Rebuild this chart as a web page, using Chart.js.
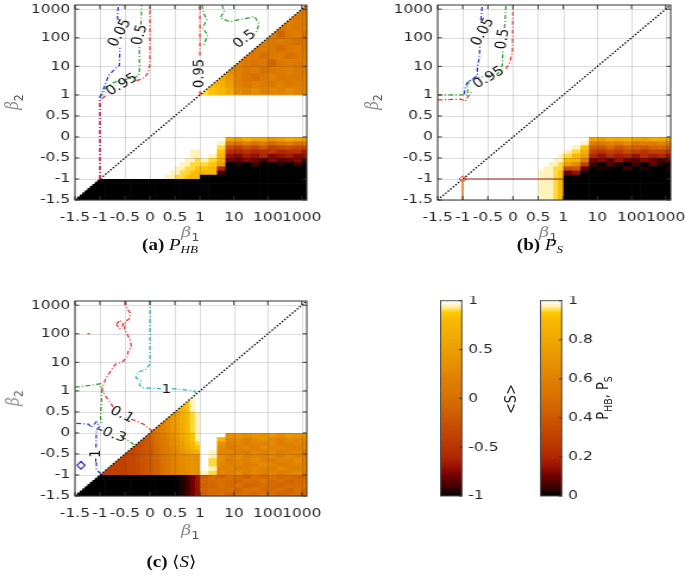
<!DOCTYPE html>
<html>
<head>
<meta charset="utf-8">
<title>beta phase diagrams</title>
<script src="https://cdn.jsdelivr.net/npm/chart.js@4.4.1/dist/chart.umd.min.js"></script>
<style>
  html, body { margin: 0; padding: 0; background: #fff; overflow: hidden; }
  /* the whole figure is laid out square and stretched sideways like the original */
  #page { position: absolute; left: 0; top: 0; width: 576px; height: 576px;
          transform: scaleX(1.1892); transform-origin: 0 0;
          font-family: "DejaVu Sans", sans-serif; color: #262626; }
  #page canvas { position: absolute; }
  .axt { position: absolute; font-family: "DejaVu Serif", serif; font-size: 15px; color: #8c8c8c;
         white-space: nowrap; transform: translate(-50%, -50%); }
  .axt sub { font-family: "DejaVu Sans", sans-serif; font-size: 11px; color: #555; vertical-align: -4px; }
  .axt.rot { transform: translate(-50%, -50%) rotate(-90deg); }
  .cap { position: absolute; font-family: "Liberation Serif", serif; font-size: 16px; color: #111;
         white-space: nowrap; transform: translate(-50%, -50%); }
  .cap sub { font-size: 11px; vertical-align: -3px; }
  .cbt { position: absolute; font-size: 13px; color: #262626; white-space: nowrap;
         transform: translate(-50%, -50%) rotate(-90deg); }
  .cbt sub { font-size: 9.5px; vertical-align: -3px; }
</style>
</head>
<body>
<div id="page">
  <canvas id="pa" width="278" height="226" style="left:0;top:0"></canvas>
  <canvas id="pb" width="279" height="226" style="left:304.5px;top:0"></canvas>
  <canvas id="pc" width="278" height="226" style="left:0;top:296px"></canvas>
  <canvas id="cb1" width="60" height="205" style="left:370px;top:296px"></canvas>
  <canvas id="cb2" width="60" height="205" style="left:454px;top:296px"></canvas>

  <div class="axt" style="left:160px;top:233px"><i>β</i><sub>1</sub></div>
  <div class="axt" style="left:461px;top:233px"><i>β</i><sub>1</sub></div>
  <div class="axt" style="left:160px;top:531px"><i>β</i><sub>1</sub></div>
  <div class="axt rot" style="left:12px;top:102px"><i>β</i><sub>2</sub></div>
  <div class="axt rot" style="left:314px;top:102px"><i>β</i><sub>2</sub></div>
  <div class="axt rot" style="left:12px;top:398px"><i>β</i><sub>2</sub></div>

  <div class="cap" style="left:143px;top:245px"><b>(a)</b> <i>P<sub>HB</sub></i></div>
  <div class="cap" style="left:454px;top:245px"><b>(b)</b> <i>P<sub>S</sub></i></div>
  <div class="cap" style="left:144px;top:561px"><b>(c)</b> ⟨<i>S</i>⟩</div>

  <div class="cbt" style="left:429px;top:399px">&lt;S&gt;</div>
  <div class="cbt" style="left:508px;top:398px">P<sub>HB</sub>, P<sub>S</sub></div>
</div>

<script>
// axis: linear from -1.5 to 1, log above 1
const K = 0.68;
const AXIS_MIN = -1.5, AXIS_MAX = 1400;
const TICK_VALUES = [-1.5, -1, -0.5, 0, 0.5, 1, 10, 100, 1000];
const TICK_LABELS = ['-1.5', '-1', '-0.5', '0', '0.5', '1', '10', '100', '1000'];

// grid cell edges (same for beta1 and beta2)
const EDGES = [-1.5, -1.4, -1.3, -1.2, -1.1, -1, -0.9, -0.8, -0.7, -0.6, -0.5, -0.4, -0.3, -0.2, -0.1,
  0, 0.1, 0.2, 0.3, 0.4, 0.5, 0.6, 0.7, 0.8, 0.9, 1,
  1.778, 3.162, 5.623, 10, 17.78, 31.62, 56.23, 100, 177.8, 316.2, 562.3, 1000, 1778];

// one char per cell, 41 levels; row strings start at the diagonal column, top row first
const LEVELS = '0123456789abcdefghijklmnopqrstuvwxyzABCDE';

const P_HB = [
  'o', 'nm', 'omn', 'mnmo', 'nimnm', 'omnmkm', 'mnmjmnm', 'nmkmnkmn', 'omlmimnmo', 'qomnkmnomn',
  'wsomkmomnmo', 'Ayuomonmomno', 'CBAwqoqopoqop',
  'EEEEEEEEEEEEEE', 'EEEEEEEEEEEEEEE', 'EEEEEEEEEEEEEEEE', 'EEEEEEEEEEEEEEEEE', 'EEEEEEEEEEEEEEEEEE',
  'EEEEEEEEEEEEEEEEEEE', 'EEEEEEEEEEEEEEEEEEEE', 'EEEEEEEEEEEEEEEEEEEEE', 'EEEEEEEEEEEEEEEEEEEEEE',
  'EEEEEEEEEEEEEEEEEEEEEEE',
  'EEEEEEEEEEEEEEwuyvwsuxvw',
  'EEEEEEEEEEEEEEDmkolnjmokn',
  'EEEEEEEEEEEEEEECecfdgcefde',
  'EEEEEEEEEEEEDDEEB98a89b89a7',
  'EEEEEEEEEEEEEDDEDA6576856756',
  'EEEEEEEEEEEEEDDCDCy4354253452',
  'EEEEEEEEEEEEEDDCCCBu0102001020',
  'EEEEEEEEEEEEEDDCCBBA80000000000',
  'EEEEEEEEEEEEEDDCCBAAA20000000000',
  'EEEEEEEEEEEEEDDCCBAA0000000000000',
  '0000000000000000000000000000000000',
  '00000000000000000000000000000000000',
  '000000000000000000000000000000000000',
  '0000000000000000000000000000000000000',
  '00000000000000000000000000000000000000'
];

const P_S = [
  'E', 'EE', 'EEE', 'EEEE', 'EEEEE', 'EEEEEE', 'EEEEEEE', 'EEEEEEEE', 'EEEEEEEEE', 'EEEEEEEEEE',
  'EEEEEEEEEEE', 'EEEEEEEEEEEE', 'EEEEEEEEEEEEE',
  'EEEEEEEEEEEEEE', 'EEEEEEEEEEEEEEE', 'EEEEEEEEEEEEEEEE', 'EEEEEEEEEEEEEEEEE', 'EEEEEEEEEEEEEEEEEE',
  'EEEEEEEEEEEEEEEEEEE', 'EEEEEEEEEEEEEEEEEEEE', 'EEEEEEEEEEEEEEEEEEEEE', 'EEEEEEEEEEEEEEEEEEEEEE',
  'EEEEEEEEEEEEEEEEEEEEEEE',
  'EEEEEEEEEEEEEEwuxwyvuxwv',
  'EEEEEEEEEEEEEEDompnqmonpm',
  'EEEEEEEEEEEEEEDBhgjfihgijg',
  'EEEEEEEEEEEEEEDCycadbecadcb',
  'EEEEEEEEEEEEEEDCAu8697869786',
  'EEEEEEEEEEEEEEDDAyo4536435424',
  'EEEEEEEEEEEEEEDDCuqc2031020310',
  'EEEEEEEEEEEEEEDDCCeg40100201001',
  'EEEEEEEEEEEEEEDDDCB4600000000000',
  'EEEEEEEEEEEEEEEDDDCB0000000000000',
  'EEEEEEEEEEEEEEEEDDDCA0000000000000',
  'EEEEEEEEEEEEEEEEEDDDCA0000000000000',
  'EEEEEEEEEEEEEEEEEEDDDCA0000000000000',
  'EEEEEEEEEEEEEEEEEEEDDDCA0000000000000',
  'EEEEEEEEEEEEEEEEEEEEDDDCA0000000000000'
];

const S_MEAN = [
  'E', 'EE', 'EEE', 'EEEE', 'EEEEE', 'EEEEEE', 'EEEEEEE', 'EEEEEEEE', 'EEEEEEEEE', 'EEEEEEEEEE',
  'EEEEEEEEEEE', 'EEEEEEEEEEEE', 'EEEEEEEEEEEEE',
  'EEEEEEEEEEEEEE',
  'DEEEEEEEEEEEEEE',
  'BDEEEEEEEEEEEEEE',
  'zBDEEEEEEEEEEEEEE',
  'wzBDEEEEEEEEEEEEEE',
  'suxACDEEEEEEEEEEEEE',
  'qsuxACDEEEEEEEEEEEEE',
  'oqsuxACDEEEEEEEEEEEEE',
  'moqsuxACDEEEEEEEEEEEEE',
  'kmoqsuxACDEEEEEEEEEEEEE',
  'hjlnprtwzBDEEErsqsrtqsrs',
  'fgikmoqsvyBDEEApqoqrpoqpq',
  'efgikmoqsuxACEEsopnpoqnopo',
  'defghjlnprtwzBEEqnopnqoponp',
  'ddefghjlnpqsvxyEDpponpoqnopn',
  'cddefghikmopqrsrEDqoqnpopnqon',
  'ccddefghikmopqrsrECqnpoqonpoqo',
  'cccddefghikmopqrsrECpopnoqpnopn',
  'ccccddefghikmopqrsrEDopnoponqonp',
  'cccccddefghikmopqrsrDCpoqnpopnoqn',
  '000000000000000001246hjikjikjljkij',
  '0000000000000000001246ijkjikjljkijk',
  '00000000000000000001246hikjlijkjikjl',
  '000000000000000000001246ijjkikljjkikj',
  '0000000000000000000001246hjkijkjlkijkj'
];

// contour lines, [beta1, beta2]; null leaves a gap for the label
const A_C005 = [[-1, -1], [-1, 0.95], [-0.93, 1.6], [-0.83, 4.7], [-0.7, 8.2], [-0.61, 10.7], [-0.6, 45], null, [-0.64, 420], [-0.65, 560], [-0.63, 1400]];
const A_C05 = [[-1, 0.95], [-0.93, 1.2], [-0.87, 1.9], [-0.73, 2.7], [-0.57, 3.3], [-0.33, 3.9], [-0.23, 4.7], [-0.21, 6.2], [-0.21, 50], null, [-0.18, 290], [-0.17, 560], [-0.17, 1400]];
const A_C095 = [[-1, -1], [-1, 0.88], [-0.86, 1.0], null, [-0.27, 3.1], [-0.1, 4.1], [-0.03, 6.2], [0, 12], [0, 37], [0, 1400]];
const A_C095R = [[1, 1], [1, 1.6], null, [1, 24], [1, 1400]];
const A_C05R1 = [[1.15, 1400], [1.3, 700], [1.6, 430], [1.2, 220], [1.7, 125], [1.3, 55]];
const A_C05R2 = [[4.5, 1400], [5.2, 830], [3.95, 510], [7.3, 365], [20.5, 465], [41, 550], [54, 310], [48, 175], [40, 130]];

const B_C005 = [[-0.97, 1.05], [-0.96, 1.6], [-0.91, 2.7], [-0.71, 4.7], [-0.71, 9.4], [-0.67, 21], [-0.66, 55], null, [-0.64, 420], [-0.61, 1400]];
const B_C05 = [[-1.5, 1], [-0.9, 1], [-0.906, 2.1], [-0.874, 3.1], [-0.77, 3.6], [-0.51, 4.7], [-0.31, 5.4], [-0.24, 8.2], [-0.21, 12], [-0.2, 40], null, [-0.17, 220], [-0.16, 325], [-0.14, 1400]];
const B_C095 = [[-1.5, 0.88], [-1.04, 0.9], [-0.95, 0.85], [-0.9, 0.95], [-0.81, 1.39], null, [-0.14, 8.2], [-0.06, 14], [-0.01, 36], [0, 1400]];
const B_EDGE = [[-1, -1], [1, -1]];
const B_DROP = [[-1, -1], [-1, -1.5]];
const B_MARK = [[-1, -1]];

const C_C1 = [[0, 1400], [0, 8.6], [-0.08, 5.7], [-0.25, 4.4], [-0.28, 2.9], [-0.18, 2.2], [-0.21, 1.6], [-0.15, 1.28], [0.22, 1.2], null, [0.44, 1.2], [0.89, 1.0], [0.93, 0.93]];
const C_C01 = [[-0.49, 1400], [-0.46, 775], [-0.39, 515], [-0.41, 340], [-0.49, 262], [-0.51, 150], [-0.46, 100], [-0.39, 58], [-0.37, 34], [-0.43, 26], [-0.46, 15], [-0.56, 9.9], [-0.69, 8.6], [-0.83, 3.8], [-0.89, 2.5], [-0.93, 1.7], [-0.96, 1.1], [-0.89, 0.88], [-0.79, 0.72], [-0.73, 0.6], null, [-0.38, 0.32], [-0.33, 0.31], [-0.13, 0.21], [0, 0.09], [0.05, 0.05]];
const C_C01B = [[-1.25, 100], [-1.2, 100]];
const C_C01C = [[-0.67, 210], [-0.6, 300], [-0.53, 210], [-0.6, 150], [-0.67, 210]];
const C_CM03 = [[-1.5, 1.35], [-1.16, 1.6], [-0.99, 1.77], [-0.96, 1.0], [-0.97, 0.72], [-0.99, 0.4], [-0.97, 0.21], null, [-0.57, -0.1], [-0.43, -0.18], [-0.33, -0.27], [-0.29, -0.29]];
const C_CM1 = [[-1.47, 0.23], [-1.23, 0.21], [-1.17, 0.13], [-1.07, 0.27], [-1.01, 0.15], [-1.07, 0.07], [-1.08, -0.4], null, [-1.07, -0.7], [-1.07, -0.88], [-0.99, -0.96]];
const C_CM1B = [[-1.46, -0.77], [-1.38, -0.68], [-1.3, -0.77], [-1.38, -0.86], [-1.46, -0.77]];

const A_LABELS = [
  {t: '0.05', x: -0.6, y: 148, a: -64}, {t: '0.5', x: -0.2, y: 125, a: -77},
  {t: '0.95', x: -0.56, y: 2.27, a: -34}, {t: '0.95', x: 1.0, y: 5.6, a: -90},
  {t: '0.5', x: 20.6, y: 89, a: -40}
];
const B_LABELS = [
  {t: '0.05', x: -0.6, y: 160, a: -64}, {t: '0.5', x: -0.2, y: 90, a: -82},
  {t: '0.95', x: -0.48, y: 4, a: -34}
];
const C_LABELS = [
  {t: '1', x: 0.33, y: 1.12, a: 0}, {t: '0.1', x: -0.56, y: 0.43, a: 29},
  {t: '-0.3', x: -0.77, y: -0.03, a: 23}, {t: '-1', x: -1.08, y: -0.55, a: -90}
];

const CB_S_TICKS = [-1, -0.5, 0, 0.5, 1];
const CB_S_LABELS = ['-1', '-0.5', '0', '0.5', '1'];
const CB_P_TICKS = [0, 0.2, 0.4, 0.6, 0.8, 1];
const CB_P_LABELS = ['0', '0.2', '0.4', '0.6', '0.8', '1'];

const CMAP = [[0, '#000000'], [0.05, '#400000'], [0.1, '#700000'], [0.15, '#9a1000'], [0.2, '#b02800'],
  [0.3, '#c04000'], [0.4, '#cc5800'], [0.5, '#d87000'], [0.6, '#e08000'], [0.7, '#e89500'],
  [0.8, '#f0a800'], [0.9, '#f8b800'], [0.94, '#ffcc00'], [0.97, '#fff0b0'], [1, '#ffffff']];

const BLUE = '#2b2bd9', GREEN = '#2e9a2e', RED = '#e8332e', CYAN = '#26b5b5';
const DASH = [4, 2, 1, 2];

function u(v) { return v <= 1 ? v : 1 + K * Math.log10(v); }

function hexRgb(h) { return [1, 3, 5].map(i => parseInt(h.substr(i, 2), 16)); }
function cmap(f) {
  f = Math.max(0, Math.min(1, f));
  for (let i = 1; i < CMAP.length; i++) {
    if (f <= CMAP[i][0]) {
      const a = hexRgb(CMAP[i - 1][1]), b = hexRgb(CMAP[i][1]);
      const t = (f - CMAP[i - 1][0]) / (CMAP[i][0] - CMAP[i - 1][0]);
      return 'rgb(' + a.map((v, k) => Math.round(v + (b[k] - v) * t)).join(',') + ')';
    }
  }
  return CMAP[CMAP.length - 1][1];
}

Chart.defaults.font.family = '"DejaVu Sans", sans-serif';
Chart.defaults.font.size = 13;
Chart.defaults.color = '#262626';
Chart.defaults.animation = false;

function axis(pad, size, horiz) {
  return {
    type: 'linear', min: u(AXIS_MIN), max: u(AXIS_MAX),
    afterBuildTicks: s => { s.ticks = TICK_VALUES.map(v => ({value: u(v)})); },
    afterFit: s => {
      if (horiz) s.height = size; else s.width = size;
      s.paddingLeft = s.paddingRight = s.paddingTop = s.paddingBottom = 0;
    },
    ticks: { callback: (v, i) => TICK_LABELS[i], autoSkip: false, maxRotation: 0, minRotation: 0, padding: pad },
    grid: { display: false, drawTicks: false },
    border: { display: false }
  };
}

function makePanel(id, rows, decode, vmin, vmax, lines, labels) {
  const heat = {
    id: 'heat',
    beforeDatasetsDraw(chart) {
      const {ctx, chartArea: a, scales: {x, y}} = chart;
      const px = v => x.getPixelForValue(u(v)), py = v => y.getPixelForValue(u(v));
      ctx.save();
      ctx.beginPath();
      ctx.rect(a.left, a.top, a.width, a.height);
      ctx.clip();
      // values only exist below the diagonal beta2 = beta1
      ctx.beginPath();
      ctx.moveTo(px(AXIS_MIN), py(AXIS_MIN));
      ctx.lineTo(px(AXIS_MAX), py(AXIS_MAX));
      ctx.lineTo(px(AXIS_MAX), py(AXIS_MIN));
      ctx.closePath();
      ctx.clip();
      rows.forEach((row, i) => {
        const r = rows.length - 1 - i;
        for (let j = 0; j < row.length; j++) {
          const c = r + j;
          if (c >= EDGES.length - 1) break;
          const v = decode(LEVELS.indexOf(row[j]));
          ctx.fillStyle = cmap((v - vmin) / (vmax - vmin));
          const x0 = px(EDGES[c]), x1 = px(EDGES[c + 1]);
          const y0 = py(EDGES[r + 1]), y1 = py(EDGES[r]);
          ctx.fillRect(x0, y0, x1 - x0 + 0.6, y1 - y0 + 0.6);
        }
      });
      ctx.restore();
      // light grid on top, multiplied so it vanishes on dark cells
      ctx.save();
      ctx.globalCompositeOperation = 'multiply';
      ctx.strokeStyle = '#dcdcdc';
      ctx.lineWidth = 1;
      x.ticks.forEach(t => {
        const p = Math.round(x.getPixelForValue(t.value)) + 0.5;
        ctx.beginPath(); ctx.moveTo(p, a.top); ctx.lineTo(p, a.bottom); ctx.stroke();
      });
      y.ticks.forEach(t => {
        const p = Math.round(y.getPixelForValue(t.value)) + 0.5;
        ctx.beginPath(); ctx.moveTo(a.left, p); ctx.lineTo(a.right, p); ctx.stroke();
      });
      ctx.restore();
    }
  };
  const frame = {
    id: 'frame',
    afterDatasetsDraw(chart) {
      const {ctx, chartArea: a, scales: {x, y}} = chart;
      ctx.save();
      ctx.strokeStyle = '#333';
      ctx.lineWidth = 1;
      ctx.strokeRect(a.left, a.top, a.width, a.height);
      x.ticks.forEach(t => {
        const p = x.getPixelForValue(t.value);
        ctx.beginPath();
        ctx.moveTo(p, a.bottom); ctx.lineTo(p, a.bottom - 4);
        ctx.moveTo(p, a.top); ctx.lineTo(p, a.top + 4);
        ctx.stroke();
      });
      y.ticks.forEach(t => {
        const p = y.getPixelForValue(t.value);
        ctx.beginPath();
        ctx.moveTo(a.left, p); ctx.lineTo(a.left + 3.5, p);
        ctx.moveTo(a.right, p); ctx.lineTo(a.right - 3.5, p);
        ctx.stroke();
      });
      ctx.font = '13px "DejaVu Sans"';
      ctx.fillStyle = '#111';
      ctx.textAlign = 'center';
      ctx.textBaseline = 'middle';
      labels.forEach(l => {
        ctx.save();
        ctx.translate(x.getPixelForValue(u(l.x)), y.getPixelForValue(u(l.y)));
        ctx.rotate(l.a * Math.PI / 180);
        ctx.fillText(l.t, 0, 0);
        ctx.restore();
      });
      ctx.restore();
    }
  };
  const datasets = lines.map(l => ({
    data: l.pts.map(p => p ? {x: u(p[0]), y: u(p[1])} : {x: null, y: null}),
    showLine: !l.marker, borderColor: l.color, borderWidth: l.width || 1.25,
    borderDash: l.dash || [], pointRadius: l.marker ? 3.2 : 0, pointStyle: 'rectRot',
    pointBorderColor: l.color, pointBackgroundColor: 'rgba(0,0,0,0)', pointBorderWidth: 1,
    fill: false, spanGaps: false
  }));
  datasets.push({
    data: [{x: u(AXIS_MIN), y: u(AXIS_MIN)}, {x: u(AXIS_MAX), y: u(AXIS_MAX)}],
    showLine: true, borderColor: '#000', borderWidth: 1.3, borderDash: [1.5, 1.5], pointRadius: 0
  });
  return new Chart(document.getElementById(id), {
    type: 'scatter',
    data: { datasets },
    options: {
      responsive: false, events: [],
      // extra right padding leaves room for the "1000" tick label
      layout: { padding: { top: 5, right: 20, left: 0, bottom: 0 } },
      plugins: { legend: { display: false }, tooltip: { enabled: false } },
      scales: { x: axis(10, 26, true), y: axis(4, 63, false) }
    },
    plugins: [heat, frame]
  });
}

const decodeP = i => i / 40;
const decodeS = i => -1 + i / 20;

makePanel('pa', P_HB, decodeP, 0, 1, [
  {pts: A_C095, color: RED, dash: DASH}, {pts: A_C005, color: BLUE, dash: DASH},
  {pts: A_C05, color: GREEN, dash: DASH}, {pts: A_C095R, color: RED, dash: DASH},
  {pts: A_C05R1, color: GREEN, dash: DASH}, {pts: A_C05R2, color: GREEN, dash: DASH}
], A_LABELS);

makePanel('pb', P_S, decodeP, 0, 1, [
  {pts: B_C095, color: RED, dash: DASH}, {pts: B_C05, color: GREEN, dash: DASH},
  {pts: B_C005, color: BLUE, dash: DASH}, {pts: B_EDGE, color: '#9a2a1a', width: 1},
  {pts: B_DROP, color: '#e08a20', width: 1}, {pts: B_MARK, color: RED, marker: true}
], B_LABELS);

makePanel('pc', S_MEAN, decodeS, -1, 1, [
  {pts: C_C1, color: CYAN, dash: DASH}, {pts: C_C01, color: RED, dash: DASH},
  {pts: C_C01B, color: RED}, {pts: C_C01C, color: RED, dash: DASH},
  {pts: C_CM03, color: GREEN, dash: DASH}, {pts: C_CM1, color: BLUE, dash: DASH},
  {pts: C_CM1B, color: BLUE}
], C_LABELS);

function makeColorbar(id, lo, hi, ticks, tickLabels) {
  const frame = {
    id: 'cbframe',
    afterDraw(chart) {
      const {ctx, chartArea: a, scales: {y}} = chart;
      ctx.save();
      ctx.strokeStyle = '#555';
      ctx.lineWidth = 1;
      ctx.strokeRect(a.left + 0.5, a.top, a.width - 1, a.height);
      ctx.strokeStyle = '#333';
      y.ticks.forEach(t => {
        const p = y.getPixelForValue(t.value);
        ctx.beginPath(); ctx.moveTo(a.right, p); ctx.lineTo(a.right - 3, p); ctx.stroke();
      });
      ctx.restore();
    }
  };
  return new Chart(document.getElementById(id), {
    type: 'bar',
    data: {
      labels: [''],
      datasets: [{
        data: [[lo, hi]], borderWidth: 0, barPercentage: 1, categoryPercentage: 1,
        backgroundColor: c => {
          const a = c.chart.chartArea;
          if (!a) return '#000';
          const g = c.chart.ctx.createLinearGradient(0, a.bottom, 0, a.top);
          CMAP.forEach(s => g.addColorStop(s[0], s[1]));
          return g;
        }
      }]
    },
    options: {
      responsive: false, events: [],
      layout: { padding: { top: 4.7, bottom: 5, left: 0, right: 0 } },
      plugins: { legend: { display: false }, tooltip: { enabled: false } },
      scales: {
        x: { display: false },
        y: {
          position: 'right', min: lo, max: hi,
          afterBuildTicks: s => { s.ticks = ticks.map(v => ({value: v})); },
          afterFit: s => { s.width = 41.2; s.paddingTop = s.paddingBottom = 0; },
          ticks: { callback: (v, i) => tickLabels[i], padding: 5, autoSkip: false },
          grid: { display: false, drawTicks: false },
          border: { display: false }
        }
      }
    },
    plugins: [frame]
  });
}

makeColorbar('cb1', -1, 1, CB_S_TICKS, CB_S_LABELS);
makeColorbar('cb2', 0, 1, CB_P_TICKS, CB_P_LABELS);
</script>
</body>
</html>
